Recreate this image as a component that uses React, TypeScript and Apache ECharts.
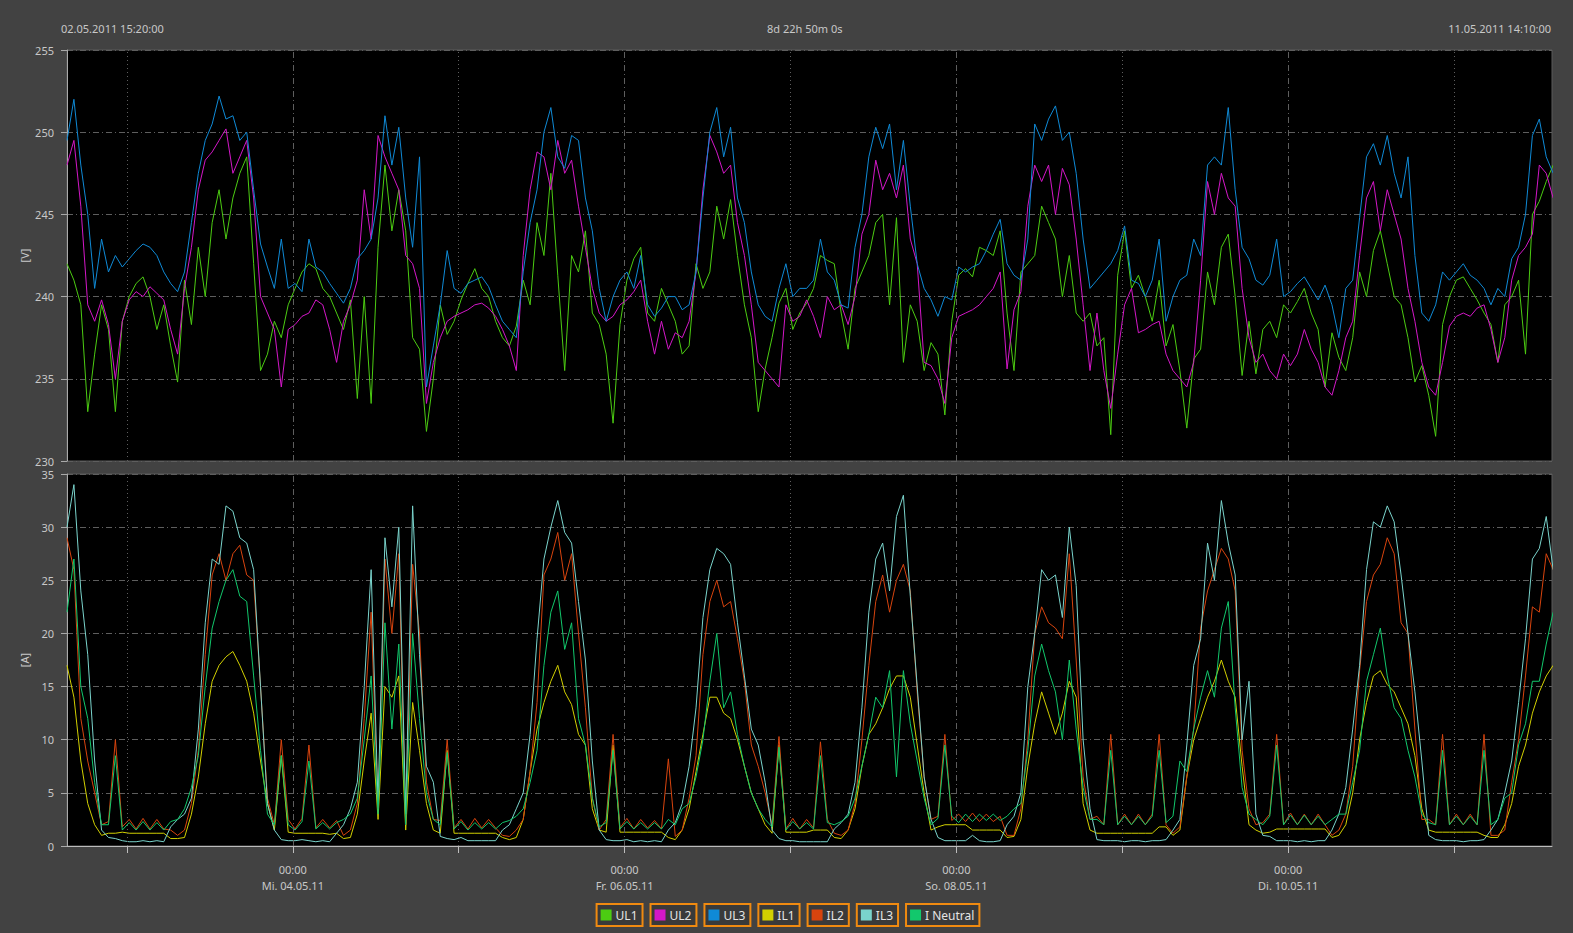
import React, { useEffect, useRef } from "react";
import * as echarts from "echarts";

// ---------- labels ----------
const SERIES_NAMES = ["UL1", "UL2", "UL3", "IL1", "IL2", "IL3", "I Neutral"];
const COLORS = ["#4ccc12", "#d417c8", "#0f8ad6", "#d2d000", "#d8440e", "#7ad4cc", "#12c86c"];
const START_LABEL = "02.05.2011 15:20:00";
const SPAN_LABEL = "8d 22h 50m 0s";
const END_LABEL = "11.05.2011 14:10:00";
const DAY_LABELS = ["Mi. 04.05.11", "Fr. 06.05.11", "So. 08.05.11", "Di. 10.05.11"];
const TIME_LABEL = "00:00";
// time axis in hours after 02.05.2011 15:20
const SPAN_HOURS = 214 + 50 / 60;
const FIRST_MIDNIGHT = 8 + 40 / 60;
const MIDNIGHT_COUNT = 9;

// ---------- hourly values (index = hours after start) ----------
const UL1 = [
  242.0, 241.0, 239.5, 233.0, 236.5, 239.5, 238.0, 233.0, 238.5, 240.0,
  240.8, 241.2, 240.0, 238.0, 239.5, 237.0, 234.8, 241.0, 238.3, 243.0,
  240.0, 244.5, 246.5, 243.5, 246.0, 247.5, 248.5, 242.0, 235.5, 236.5,
  238.5, 237.5, 239.5, 240.5, 241.5, 242.0, 241.7, 240.5, 240.0, 239.0,
  238.0, 239.8, 233.8, 240.0, 233.5, 243.0, 248.0, 244.0, 246.5, 244.0,
  237.5, 236.8, 231.8, 235.0, 239.5, 237.7, 238.5, 239.8, 240.8, 241.7,
  240.5, 240.0, 238.5, 237.5, 237.0, 238.2, 241.0, 239.5, 244.5, 242.5,
  247.5, 241.3, 235.5, 242.5, 241.5, 244.0, 239.0, 238.3, 236.5, 232.3,
  238.3, 241.0, 242.3, 243.0, 239.0, 238.5, 240.5, 239.5, 238.5, 236.5,
  237.0, 242.0, 240.5, 241.5, 245.5, 243.5, 245.9, 242.5, 239.5, 237.5,
  233.0, 235.6, 237.5, 239.6, 240.5, 238.0, 239.0, 239.6, 240.5, 242.5,
  242.2, 242.0, 239.0, 236.8, 240.5, 241.5, 242.5, 244.5, 245.0, 239.5,
  244.8, 236.0, 239.5, 238.5, 235.5, 237.2, 236.5, 232.8, 238.5, 241.3,
  241.7, 241.2, 243.0, 242.8, 242.5, 244.0, 239.0, 235.5, 241.5, 242.0,
  242.5, 245.5, 244.5, 243.5, 240.0, 242.5, 239.0, 238.5, 239.0, 237.0,
  237.5, 231.6, 241.3, 244.0, 240.5, 241.3, 240.0, 238.5, 241.0, 237.0,
  238.3, 235.5, 232.0, 236.2, 236.8, 241.5, 239.5, 243.0, 243.8, 240.0,
  235.2, 238.5, 235.3, 238.0, 238.5, 237.5, 239.5, 239.0, 239.7, 240.5,
  239.0, 238.0, 234.5, 237.8, 236.3, 235.5, 237.5, 241.5, 240.0, 242.8,
  244.0, 242.0, 240.0, 239.5, 237.5, 234.8, 235.8, 234.0, 231.5, 238.3,
  240.0, 241.0, 241.2, 240.5, 239.8, 239.0, 238.3, 236.0, 239.5, 240.0,
  241.0, 236.5, 245.0, 245.8, 247.0, 248.0,
];
const UL2 = [
  248.0, 249.5, 245.5, 239.5, 238.5, 239.8, 238.3, 235.0, 238.5, 239.8,
  240.3, 240.0, 240.6, 240.2, 239.8, 238.0, 236.5, 240.5, 243.0, 246.5,
  248.3, 248.8, 249.5, 250.2, 247.5, 248.5, 249.5, 246.0, 240.0, 239.0,
  238.0, 234.5, 238.0, 238.3, 238.8, 239.0, 239.8, 239.5, 238.0, 236.0,
  238.5, 239.5, 241.0, 246.5, 243.5, 249.8, 248.5, 247.5, 246.5, 242.5,
  242.0, 240.5, 233.5, 236.0, 237.5, 238.5, 238.8, 239.0, 239.2, 239.5,
  239.6, 239.3, 238.8, 238.0, 237.0, 235.5, 242.5, 246.5, 248.8, 248.5,
  246.5, 249.5, 247.5, 248.3, 245.5, 243.0, 240.5, 239.0, 238.5, 238.8,
  239.5, 239.8, 240.3, 241.0, 238.5, 236.5, 238.5, 236.8, 237.8, 237.5,
  238.5, 241.5, 246.5, 249.8, 248.8, 247.5, 248.0, 244.5, 242.5, 239.5,
  236.0, 235.5, 235.0, 234.5, 239.5, 238.5, 238.8, 239.8, 238.8, 237.5,
  240.0, 239.2, 239.5, 238.3, 240.0, 243.8, 245.0, 248.3, 246.5, 247.5,
  246.0, 248.0, 243.5, 242.0, 236.0, 235.8, 235.0, 233.5, 237.5, 238.8,
  239.0, 239.2, 239.5, 240.0, 240.5, 241.5, 235.6, 239.2, 240.3, 245.5,
  248.0, 247.0, 248.0, 245.0, 247.8, 246.8, 243.5, 239.5, 235.5, 239.0,
  235.5, 233.2, 236.5, 239.5, 240.5, 237.8, 238.0, 238.3, 238.5, 236.5,
  235.5, 235.0, 234.5, 236.0, 241.0, 247.0, 245.0, 247.5, 246.0, 245.5,
  240.5, 237.5, 236.0, 236.5, 235.5, 235.0, 236.5, 235.8, 236.5, 238.0,
  236.8, 236.0, 234.5, 234.0, 235.5, 237.5, 238.5, 242.5, 246.0, 247.0,
  244.0, 246.5, 245.0, 243.5, 240.5, 238.5, 236.0, 234.5, 234.0, 236.0,
  238.2, 238.8, 239.0, 238.8, 239.3, 239.5, 238.0, 236.0, 237.5, 241.0,
  242.5, 243.0, 243.8, 248.0, 247.5, 246.0,
];
const UL3 = [
  249.5, 252.0, 248.0, 245.0, 240.5, 243.5, 241.5, 242.5, 241.8, 242.3,
  242.8, 243.2, 243.0, 242.5, 241.5, 240.8, 240.3, 241.5, 244.5, 247.5,
  249.5, 250.5, 252.2, 250.8, 251.0, 249.5, 250.0, 246.5, 243.2, 241.8,
  240.5, 243.5, 240.5, 240.8, 240.3, 243.5, 241.8, 241.5, 240.8, 240.2,
  239.6, 240.5, 242.3, 242.8, 243.5, 246.0, 251.0, 248.0, 250.3, 246.0,
  243.0, 248.5, 234.5, 237.0, 239.5, 242.8, 240.5, 240.2, 240.8, 241.0,
  241.2, 240.6, 239.5, 238.5, 238.0, 237.5, 241.5, 244.5, 246.5, 250.0,
  251.5, 248.5, 247.8, 249.8, 249.5, 246.0, 244.0, 240.5, 238.5, 240.0,
  241.0, 241.5, 240.5, 242.5, 239.5, 238.8, 239.3, 240.0, 240.0, 239.2,
  239.5, 241.5, 246.0, 250.0, 251.5, 248.5, 250.3, 246.0, 244.5, 241.5,
  239.5, 238.8, 238.5, 240.5, 242.0, 240.0, 240.5, 240.5, 241.0, 243.5,
  241.5, 241.0, 239.5, 239.3, 243.0, 245.0, 248.5, 250.3, 249.0, 250.5,
  246.5, 249.5, 245.5, 242.0, 240.5, 239.8, 238.8, 240.0, 239.8, 241.8,
  241.5, 241.8, 242.0, 242.8, 243.8, 244.7, 242.0, 241.3, 241.0, 243.5,
  250.5, 249.5, 250.8, 251.6, 249.5, 250.0, 247.5, 243.5, 240.5, 241.0,
  241.5, 242.0, 242.8, 244.3, 241.0, 240.8, 240.0, 241.0, 243.5, 238.5,
  240.0, 241.0, 241.3, 243.5, 242.5, 248.0, 248.5, 248.0, 251.5, 246.5,
  243.0, 242.3, 241.0, 240.7, 241.3, 243.5, 240.0, 240.3, 240.8, 241.2,
  240.5, 239.8, 240.7, 239.5, 237.5, 240.5, 241.0, 244.8, 248.5, 249.3,
  248.0, 249.8, 247.5, 246.0, 248.5, 242.5, 239.0, 238.5, 239.5, 241.5,
  241.0, 241.5, 242.0, 241.3, 241.0, 240.5, 239.5, 240.5, 240.0, 242.3,
  243.0, 245.0, 249.8, 250.8, 248.5, 247.5,
];
const IL1 = [
  17.0, 14.0, 8.0, 4.0, 2.0, 1.0, 1.2, 1.2, 1.3, 1.2,
  1.2, 1.2, 1.2, 1.2, 1.2, 0.7, 0.7, 0.8, 3.0, 6.5,
  11.5, 15.5, 17.0, 17.8, 18.3, 17.0, 15.5, 12.5, 8.0, 4.0,
  1.5, 8.5, 1.3, 1.2, 1.2, 1.2, 1.2, 1.2, 1.1, 1.2,
  0.7, 0.8, 3.0, 8.0, 12.5, 2.5, 15.0, 14.0, 16.0, 1.5,
  13.5, 9.0, 4.0, 1.5, 1.2, 9.0, 1.2, 1.2, 1.2, 1.2,
  1.2, 1.2, 1.2, 0.8, 0.6, 0.8, 2.5, 7.0, 11.0, 13.5,
  15.5, 17.0, 14.5, 13.3, 10.5, 9.5, 3.5, 1.5, 1.3, 9.5,
  1.3, 1.3, 1.3, 1.3, 1.3, 1.3, 1.3, 0.8, 0.6, 1.5,
  3.5, 7.0, 10.5, 14.0, 14.0, 12.5, 12.0, 10.0, 7.5, 5.0,
  3.5, 2.0, 1.2, 9.5, 1.3, 1.3, 1.3, 1.3, 1.5, 1.5,
  1.5, 0.8, 0.7, 1.5, 3.5, 7.5, 10.5, 11.5, 13.0, 14.8,
  16.0, 16.0, 14.0, 9.5, 5.0, 1.5, 1.8, 2.0, 2.0, 2.0,
  2.0, 1.5, 1.5, 1.5, 1.5, 1.5, 0.8, 0.9, 2.5, 7.5,
  11.5, 14.5, 12.5, 10.5, 12.5, 15.5, 14.0, 4.0, 1.5, 1.2,
  1.2, 1.2, 1.2, 1.2, 1.2, 1.2, 1.2, 1.2, 1.8, 1.8,
  1.0, 1.5, 6.5, 10.0, 12.0, 14.0, 15.5, 17.5, 15.5, 14.0,
  7.5, 2.0, 1.5, 1.2, 1.3, 1.6, 1.6, 1.6, 1.6, 1.6,
  1.6, 1.6, 1.6, 0.8, 1.0, 2.0, 5.0, 10.0, 13.5, 16.0,
  16.5, 15.2, 14.5, 13.0, 11.5, 8.5, 3.5, 1.5, 1.3, 1.3,
  1.3, 1.3, 1.3, 1.3, 1.3, 1.0, 0.8, 0.8, 2.0, 4.0,
  7.5, 9.5, 12.5, 14.5, 16.0, 17.0,
];
const IL2 = [
  29.0, 26.0, 12.0, 8.0, 5.0, 2.0, 2.3, 10.0, 1.8, 2.5,
  1.6, 2.6, 1.6, 2.5, 1.6, 1.5, 1.0, 1.5, 4.0, 9.0,
  18.0, 25.5, 27.5, 25.0, 27.5, 28.3, 25.5, 25.0, 15.0, 4.5,
  2.0, 10.0, 2.5, 1.6, 2.6, 9.5, 1.7, 2.5, 1.7, 2.4,
  1.0, 1.5, 4.0, 12.0, 22.0, 3.5, 27.0, 20.0, 27.5, 2.0,
  26.5, 20.0, 6.0, 2.5, 2.4, 10.0, 1.7, 2.5, 1.6, 2.6,
  1.7, 2.5, 1.7, 1.0, 0.9, 1.5, 2.5, 7.0, 13.5, 25.5,
  27.0, 29.5, 25.0, 27.5, 20.0, 13.0, 4.5, 1.5, 2.5, 10.5,
  1.7, 2.6, 1.6, 2.5, 1.7, 2.4, 1.6, 8.2, 0.9, 1.5,
  4.5, 8.5, 18.0, 23.0, 25.0, 22.5, 23.0, 19.5, 15.5, 9.5,
  7.5, 5.0, 2.0, 10.3, 1.6, 2.6, 1.6, 2.5, 1.7, 9.8,
  2.5, 1.2, 1.0, 1.5, 4.0, 10.0, 17.0, 23.0, 25.5, 22.0,
  25.0, 26.5, 24.0, 14.5, 6.5, 2.5, 2.8, 10.5, 2.4, 3.0,
  2.3, 3.1, 2.3, 3.0, 2.3, 2.8, 1.0, 1.0, 3.5, 10.0,
  20.0, 22.5, 21.0, 20.5, 19.5, 27.5, 17.5, 6.5, 2.5, 2.8,
  2.0, 10.5, 2.0, 3.0, 2.0, 3.0, 2.0, 3.0, 10.5, 2.0,
  1.2, 1.8, 6.5, 11.0, 20.5, 24.0, 26.0, 28.0, 27.0, 24.0,
  9.0, 3.5, 2.0, 2.2, 3.0, 10.5, 2.0, 3.1, 2.0, 3.0,
  2.0, 3.0, 2.0, 1.0, 1.5, 3.0, 7.5, 16.5, 23.0, 25.5,
  26.5, 29.0, 27.5, 21.0, 20.0, 11.0, 2.5, 2.5, 2.0, 10.5,
  2.0, 3.0, 2.0, 3.0, 2.0, 10.5, 1.0, 1.0, 1.5, 6.0,
  10.0, 16.0, 22.5, 22.0, 27.5, 26.0,
];
const IL3 = [
  30.0, 34.0, 24.0, 18.0, 8.0, 1.5, 0.8, 0.7, 0.5, 0.4,
  0.4, 0.5, 0.4, 0.5, 0.4, 1.8, 2.5, 3.0, 4.5, 11.0,
  21.0, 27.0, 26.5, 32.0, 31.5, 29.0, 28.5, 26.0, 15.0, 4.0,
  1.5, 0.6, 0.5, 0.5, 0.6, 0.5, 0.4, 0.5, 0.4, 1.2,
  2.0, 3.5, 6.0, 15.0, 26.0, 4.0, 29.0, 22.5, 30.0, 3.0,
  32.0, 18.0, 7.5, 6.0, 0.9, 0.7, 0.6, 0.8, 0.5, 0.5,
  0.5, 0.5, 0.5, 1.5, 2.0, 3.5, 5.0, 10.5, 19.5, 27.0,
  30.0, 32.5, 29.5, 28.5, 23.0, 17.5, 8.0, 1.5, 0.6, 0.5,
  0.5, 0.6, 0.4, 0.5, 0.4, 0.5, 0.4, 1.5, 2.2, 4.0,
  7.5, 13.0, 21.5, 26.0, 28.0, 27.5, 26.5, 21.0, 16.0, 11.0,
  9.5, 6.0, 1.5, 0.7, 0.5, 0.5, 0.4, 0.4, 0.4, 0.4,
  0.4, 1.6, 2.2, 3.0, 6.0, 13.0, 22.0, 27.0, 28.5, 24.0,
  31.0, 33.0, 23.5, 15.0, 6.5, 2.5, 0.8, 0.5, 0.5, 0.5,
  0.5, 1.0, 0.5, 0.4, 0.4, 0.5, 2.0, 2.8, 5.0, 15.0,
  20.0, 26.0, 25.0, 25.5, 21.5, 30.0, 24.5, 10.0, 3.5, 0.6,
  0.5, 0.5, 0.5, 0.4, 0.5, 0.5, 0.4, 0.5, 0.5, 0.6,
  1.5, 2.5, 9.5, 17.0, 19.5, 28.5, 25.0, 32.5, 28.5, 25.5,
  10.0, 15.5, 3.0, 1.0, 0.9, 0.5, 0.5, 0.5, 0.4, 0.5,
  0.4, 0.5, 0.5, 1.5, 3.0, 5.5, 11.0, 17.0, 26.0, 30.5,
  30.0, 32.0, 30.5, 25.5, 20.0, 14.5, 8.0, 1.0, 0.6, 0.5,
  0.5, 0.5, 0.4, 0.5, 0.5, 0.6, 1.5, 2.5, 5.0, 8.0,
  13.5, 19.5, 27.0, 28.0, 31.0, 26.0,
];
const IN = [
  22.0, 27.0, 15.0, 12.0, 6.0, 2.0, 2.0, 8.5, 1.5, 2.2,
  1.5, 2.3, 1.5, 2.2, 1.5, 2.3, 2.5, 3.5, 5.5, 8.5,
  15.0, 20.5, 23.0, 25.0, 26.0, 23.5, 23.0, 16.0, 9.0, 3.0,
  2.0, 8.5, 2.0, 1.5, 2.3, 8.0, 1.6, 2.2, 1.6, 2.2,
  2.5, 3.0, 4.5, 10.0, 16.0, 3.0, 21.0, 11.0, 19.0, 2.0,
  20.0, 12.0, 5.0, 2.5, 2.0, 8.8, 1.6, 2.3, 1.5, 2.2,
  1.6, 2.2, 1.6, 2.2, 2.4, 2.8, 3.5, 6.0, 9.0, 17.0,
  22.0, 24.0, 18.5, 21.0, 12.0, 9.5, 4.5, 1.8, 2.2, 9.0,
  1.6, 2.3, 1.6, 2.2, 1.6, 2.2, 1.6, 2.5, 2.0, 3.5,
  4.0, 6.5, 10.0, 15.5, 20.0, 13.0, 14.5, 10.5, 7.5, 5.0,
  3.5, 2.5, 1.8, 9.3, 1.5, 2.3, 1.6, 2.2, 1.6, 8.5,
  2.2, 2.0, 2.3, 2.8, 4.5, 7.5, 10.5, 14.0, 13.0, 16.5,
  6.5, 16.5, 11.5, 8.0, 4.5, 2.0, 2.6, 9.5, 2.8, 2.2,
  3.0, 2.3, 3.0, 2.4, 3.0, 2.4, 2.8, 3.5, 4.0, 9.0,
  16.0, 19.0, 16.5, 14.5, 10.0, 17.5, 11.0, 5.5, 2.5, 2.5,
  2.0, 9.0, 2.0, 2.8, 2.0, 2.8, 2.0, 2.8, 9.0, 2.2,
  2.8, 8.0, 7.0, 11.0, 14.0, 16.5, 14.0, 20.5, 23.0, 13.0,
  5.5, 3.0, 2.5, 2.0, 2.8, 9.5, 2.0, 2.9, 2.0, 2.9,
  2.0, 2.8, 2.0, 2.5, 3.0, 3.0, 6.0, 9.0, 15.5, 18.0,
  20.5, 16.0, 13.0, 12.0, 9.0, 6.5, 3.0, 2.2, 2.0, 9.0,
  2.0, 2.8, 2.0, 2.8, 2.0, 9.0, 2.0, 2.5, 4.5, 5.0,
  9.5, 11.5, 15.5, 15.5, 19.0, 22.0,
];

const VOLTAGE = [UL1, UL2, UL3];
const CURRENT = [IL1, IL2, IL3, IN];

const FONT = "Noto Sans";
const TEXT = "#c8c8c8";
const AXIS = "#a9a9a9";
const GRIDLINE = "#5e5e5e";
const DASHDOT = [6, 3, 1, 3];

const midnights = Array.from({ length: MIDNIGHT_COUNT }, (_, k) => FIRST_MIDNIGHT + 24 * k);
const labeledMidnights = midnights.filter((_, k) => k % 2 === 1);

function toPairs(arr: number[]) {
  return arr.map((v, i) => [i, v]);
}

function gridLineSeries(grid: number) {
  return {
    type: "line",
    xAxisIndex: grid,
    yAxisIndex: grid,
    data: [],
    silent: true,
    z: 1,
    markLine: {
      silent: true,
      symbol: ["none", "none"],
      label: { show: false },
      animation: false,
      lineStyle: { color: GRIDLINE, width: 1 },
      data: midnights.map((h, k) => ({
        xAxis: h,
        lineStyle: { color: GRIDLINE, width: 1, type: k % 2 === 1 ? DASHDOT : [1, 3] },
      })),
    },
  };
}

function yAxis(grid: number, min: number, max: number, name: string) {
  return {
    gridIndex: grid,
    type: "value",
    min,
    max,
    interval: 5,
    offset: 3,
    name,
    nameLocation: "middle",
    nameGap: 34,
    nameMoveOverlap: false,
    nameTextStyle: { color: TEXT, fontSize: 11, fontFamily: FONT },
    axisLine: { show: true, lineStyle: { color: AXIS, width: 1 } },
    axisTick: { show: true, length: 6, lineStyle: { color: AXIS } },
    axisLabel: { color: TEXT, fontSize: 11, fontFamily: FONT, margin: 10 },
    splitLine: { show: true, lineStyle: { color: GRIDLINE, width: 1, type: DASHDOT } },
  };
}

export default function App() {
  const ref = useRef<HTMLDivElement>(null);

  useEffect(() => {
    if (!ref.current) return;
    const chart = echarts.init(ref.current, null, { renderer: "svg" });

    const rich: Record<string, any> = {
      t: { color: "#e4e4e4", fontSize: 12, fontFamily: FONT, fontWeight: "normal", padding: [0, 0, 0, 4] },
    };
    COLORS.forEach((c, i) => {
      rich["s" + i] = { width: 11, height: 11, backgroundColor: c };
    });

    const series: any[] = [gridLineSeries(0), gridLineSeries(1)];
    VOLTAGE.forEach((arr, i) => {
      series.push({
        name: SERIES_NAMES[i],
        type: "line",
        xAxisIndex: 0,
        yAxisIndex: 0,
        data: toPairs(arr),
        showSymbol: false,
        symbol: "none",
        z: 2,
        color: COLORS[i],
        lineStyle: { width: 1, color: COLORS[i] },
      });
    });
    CURRENT.forEach((arr, j) => {
      const i = j + 3;
      series.push({
        name: SERIES_NAMES[i],
        type: "line",
        xAxisIndex: 1,
        yAxisIndex: 1,
        data: toPairs(arr),
        showSymbol: false,
        symbol: "none",
        z: 2,
        color: COLORS[i],
        lineStyle: { width: 1, color: COLORS[i] },
      });
    });

    chart.setOption({
      animation: false,
      backgroundColor: "#424242",
      textStyle: { fontFamily: FONT },
      grid: [
        { left: 67, right: 21, top: 50, height: 411, show: true, backgroundColor: "#000", borderColor: "#5a5a5a", borderWidth: 1 },
        { left: 67, right: 21, top: 474, height: 372, show: true, backgroundColor: "#000", borderColor: "#5a5a5a", borderWidth: 1 },
      ],
      xAxis: [
        { gridIndex: 0, type: "value", min: 0, max: SPAN_HOURS, show: false },
        {
          gridIndex: 1,
          type: "value",
          min: 0,
          max: SPAN_HOURS,
          offset: 5,
          axisLine: { show: true, lineStyle: { color: "#bdbdbd", width: 1 } },
          axisTick: { show: true, length: 7, customValues: midnights, lineStyle: { color: "#bdbdbd" } },
          axisLabel: {
            show: true,
            customValues: labeledMidnights,
            color: TEXT,
            fontSize: 11,
            fontFamily: FONT,
            lineHeight: 16,
            margin: 10,
            formatter: (v: number) => {
              const k = Math.round((v - FIRST_MIDNIGHT) / 48 - 0.5);
              return TIME_LABEL + "\n" + (DAY_LABELS[k] ?? "");
            },
          },
          splitLine: { show: false },
        },
      ],
      yAxis: [yAxis(0, 230, 255, "[V]"), yAxis(1, 0, 35, "[A]")],
      legend: {
        data: SERIES_NAMES,
        left: "center",
        top: 898,
        icon: "none",
        itemWidth: 0,
        itemHeight: 11,
        itemGap: 3,
        selectedMode: false,
        formatter: (name: string) => `{s${SERIES_NAMES.indexOf(name)}|}{t|${name}}`,
        textStyle: {
          color: "#e4e4e4",
          fontSize: 12,
          fontFamily: FONT,
          backgroundColor: "#3a3a3a",
          borderColor: "#f08a10",
          borderWidth: 2,
          padding: [4, 4, 4, 3],
          rich,
        },
      },
      graphic: [
        { type: "text", left: 61, top: 23, style: { text: START_LABEL, fill: TEXT, fontSize: 11, fontFamily: FONT } },
        { type: "text", left: 767, top: 23, style: { text: SPAN_LABEL, fill: TEXT, fontSize: 11, fontFamily: FONT } },
        { type: "text", right: 22, top: 23, style: { text: END_LABEL, fill: TEXT, fontSize: 11, fontFamily: FONT, align: "right" } },
      ],
      series,
    });

    return () => chart.dispose();
  }, []);

  return (
    <div
      ref={ref}
      style={{ position: "fixed", left: 0, top: 0, width: 1573, height: 933 }}
    />
  );
}
